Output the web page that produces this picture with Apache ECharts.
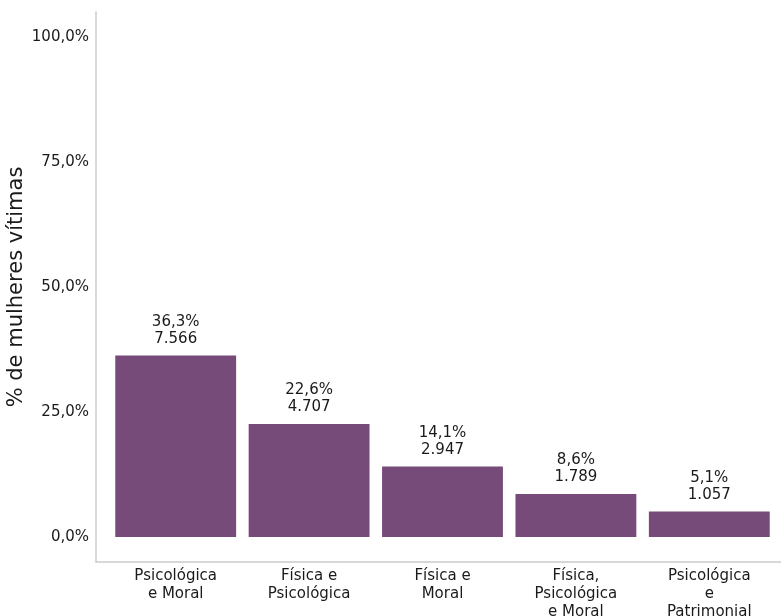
<!DOCTYPE html>
<html>
<head>
<meta charset="utf-8">
<script src="https://cdn.jsdelivr.net/npm/echarts@6/dist/echarts.min.js"></script>
<style>
  html, body { margin: 0; padding: 0; background: #fff; }
  #chart { width: 781px; height: 616px; }
</style>
</head>
<body>
<div id="chart"></div>
<script>
// tipos de violência
const categorias = [
  'Psicológica\ne Moral',
  'Física e\nPsicológica',
  'Física e\nMoral',
  'Física,\nPsicológica\ne Moral',
  'Psicológica\ne\nPatrimonial'
];
// percentuais e contagens
const percentuais = [36.3, 22.6, 14.1, 8.6, 5.1];
const contagens = [7566, 4707, 2947, 1789, 1057];
const ticksY = [0, 25, 50, 75, 100];

const fonte = 'DejaVu Sans';
const corTexto = '#1a1a1a';

const fmtPct = v => v.toFixed(1).replace('.', ',') + '%';
const fmtNum = v => v.toLocaleString('pt-BR');

const chart = echarts.init(document.getElementById('chart'));

chart.setOption({
  animation: false,
  textStyle: { fontFamily: fonte },
  grid: [
    { left: 109, right: 5, top: 12, bottom: 54, outerBoundsMode: 'none' },
    { left: 96, right: 0, top: 12, bottom: 54, outerBoundsMode: 'none' }
  ],
  xAxis: [
    {
      type: 'category',
      gridIndex: 0,
      data: categorias,
      axisLine: { show: false },
      axisTick: { show: false },
      axisLabel: {
        interval: 0,
        margin: 5,
        fontSize: 15,
        lineHeight: 18,
        color: corTexto,
        fontFamily: fonte,
        verticalAlign: 'top'
      }
    },
    {
      type: 'category',
      gridIndex: 1,
      data: [''],
      axisLine: { show: true, onZero: false, lineStyle: { color: '#cccccc', width: 1.5 } },
      axisTick: { show: false },
      axisLabel: { show: false }
    }
  ],
  yAxis: [
    {
      type: 'value',
      gridIndex: 0,
      min: -5,
      max: 105,
      show: false,
      splitLine: { show: false }
    },
    {
      type: 'value',
      gridIndex: 1,
      min: -5,
      max: 105,
      name: '% de mulheres vítimas',
      nameLocation: 'middle',
      nameGap: 69,
      nameMoveOverlap: false,
      nameTextStyle: { fontSize: 21, color: corTexto, fontFamily: fonte },
      axisLine: { show: true, lineStyle: { color: '#cccccc', width: 1.5 } },
      axisTick: { show: false },
      splitLine: { show: false },
      axisLabel: {
        customValues: ticksY,
        margin: 7,
        fontSize: 15,
        color: corTexto,
        fontFamily: fonte,
        formatter: v => fmtPct(v)
      }
    }
  ],
  series: [
    {
      type: 'bar',
      xAxisIndex: 0,
      yAxisIndex: 0,
      barCategoryGap: '9.4%',
      itemStyle: { color: '#764b7a' },
      data: percentuais,
      label: {
        show: true,
        position: 'top',
        distance: 8,
        fontSize: 15,
        lineHeight: 17,
        color: corTexto,
        fontFamily: fonte,
        formatter: p => fmtPct(p.value) + '\n' + fmtNum(contagens[p.dataIndex])
      }
    }
  ]
});
</script>
</body>
</html>
